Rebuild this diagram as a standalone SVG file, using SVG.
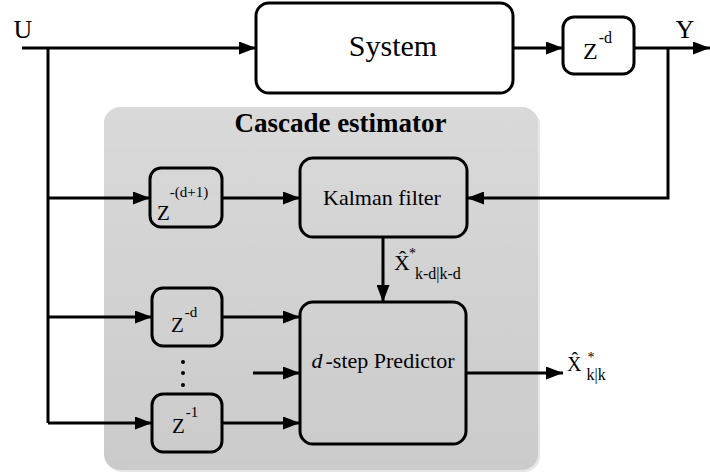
<svg xmlns="http://www.w3.org/2000/svg" width="710" height="475" viewBox="0 0 710 475">
<style>
text{font-family:"Liberation Serif","DejaVu Serif",serif;fill:#000}
.box{fill:none;stroke:#000;stroke-width:3}
.wbox{fill:#fff;stroke:#000;stroke-width:3}
.ln{fill:none;stroke:#000;stroke-width:3;stroke-linejoin:miter}
.arr{marker-end:url(#ah)}
</style>
<defs>
<marker id="ah" markerUnits="userSpaceOnUse" markerWidth="18" markerHeight="13" refX="17" refY="6.5" orient="auto">
<path d="M0,0 L17,6.5 L0,13 z" fill="#000"/>
</marker>
<linearGradient id="g" x1="0" y1="0" x2="0" y2="1">
<stop offset="0" stop-color="#d9d9d9"/>
<stop offset="1" stop-color="#cbcbcb"/>
</linearGradient>
</defs>

<g id="container">
<rect x="106" y="109" width="434" height="363" rx="16" fill="#e6e6e6"/>
<rect x="104" y="107" width="434" height="363" rx="16" fill="url(#g)"/>
<text x="340.5" y="132" font-size="27" font-weight="bold" text-anchor="middle">Cascade estimator</text>
</g>

<g id="connectors">
<path class="ln arr" d="M22,48 H256"/>
<path class="ln arr" d="M513,48 H563"/>
<path class="ln arr" d="M634,48 H710"/>
<path class="ln arr" d="M668,48 V198 H467"/>
<path class="ln" d="M48,48 V423"/>
<path class="ln arr" d="M48,198 H150"/>
<path class="ln arr" d="M48,317 H152"/>
<path class="ln arr" d="M48,423 H152"/>
<path class="ln arr" d="M222,198 H300"/>
<path class="ln arr" d="M222,317 H300"/>
<path class="ln arr" d="M222,423 H300"/>
<path class="ln arr" d="M253,373 H300"/>
<path class="ln arr" d="M383,237 V302"/>
<path class="ln arr" d="M466,373 H563"/>
</g>

<g id="labels">
<text x="23" y="38" font-size="26" text-anchor="middle">U</text>
<text x="685" y="38" font-size="26" text-anchor="middle">Y</text>
<text id="xhat1" x="394" y="270" font-size="22">X̂<tspan font-size="14" dx="-1" dy="-12.5">*</tspan><tspan font-size="16" dx="-1" dy="21.5">k-d|k-d</tspan></text>
<text id="xhat2" x="567" y="371" font-size="20">X̂<tspan font-size="14" dx="6" dy="-9.5">*</tspan><tspan font-size="16" dx="-8" dy="18.5">k|k</tspan></text>
</g>

<g id="system">
<rect class="wbox" x="256" y="3" width="257" height="90" rx="13"/>
<text x="393" y="56" font-size="30" text-anchor="middle">System</text>
</g>

<g id="delay-out">
<rect class="wbox" x="563" y="17" width="71" height="57" rx="11"/>
<text x="583" y="59" font-size="24">Z<tspan font-size="16" dy="-16" dx="1">-d</tspan></text>
</g>

<g id="delay-d1">
<rect class="box" x="150" y="168" width="72" height="59" rx="11"/>
<text x="157" y="220" font-size="21">Z<tspan font-size="15" dy="-23" dx="0">-(d+1)</tspan></text>
</g>

<g id="kalman">
<rect class="box" x="300" y="158" width="167" height="79" rx="13"/>
<text x="382" y="205" font-size="22" text-anchor="middle">Kalman filter</text>
</g>

<g id="delay-d">
<rect class="box" x="152" y="288" width="70" height="58" rx="11"/>
<text x="171" y="332" font-size="21">Z<tspan font-size="15" dy="-15" dx="1">-d</tspan></text>
</g>

<g id="dots">
<circle cx="183" cy="362" r="2"/>
<circle cx="183" cy="373" r="2"/>
<circle cx="183" cy="385" r="2"/>
</g>

<g id="delay-1">
<rect class="box" x="152" y="394" width="70" height="58" rx="11"/>
<text x="172" y="433" font-size="21">Z<tspan font-size="15" dy="-16" dx="1">-1</tspan></text>
</g>

<g id="predictor">
<rect class="box" x="300" y="302" width="166" height="142" rx="13"/>
<text x="383" y="368" font-size="22" text-anchor="middle"><tspan font-style="italic">d</tspan><tspan dx="3">-step Predictor</tspan></text>
</g>
</svg>
